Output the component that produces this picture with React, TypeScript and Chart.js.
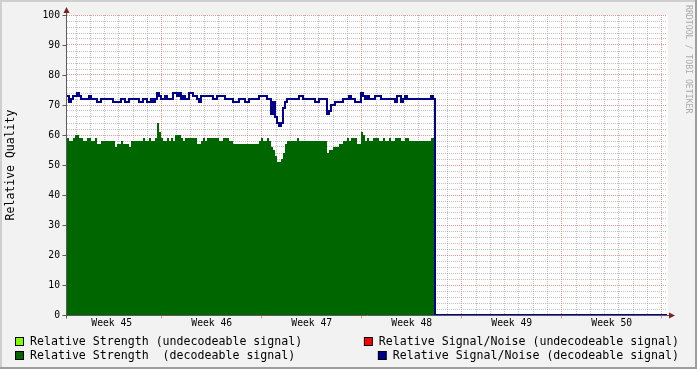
import React, { useEffect, useRef } from 'react';
import { Chart, registerables } from 'chart.js';

Chart.register(...registerables);

// ---- data ----
const WEEK_LABELS = ['Week 45', 'Week 46', 'Week 47', 'Week 48', 'Week 49', 'Week 50'];
const Y_MAJOR_TICKS = [0, 10, 20, 30, 40, 50, 60, 70, 80, 90, 100];
const X_START_DAY = 0.37; // days after the Monday that starts week 45
const X_SPAN_DAYS = 42;
const SAMPLE_DAYS = 0.14; // spacing of the samples below

// Relative Strength (decodeable signal)
const STRENGTH = [
  59, 58, 58, 59, 60, 60, 59, 59, 58, 58, 59, 59, 58, 58, 59, 57, 57, 58, 58, 58,
  58, 58, 58, 58, 56, 57, 57, 58, 57, 57, 57, 56, 58, 58, 58, 58, 58, 58, 59, 58,
  58, 59, 58, 58, 59, 64, 61, 59, 58, 58, 59, 58, 59, 58, 60, 60, 60, 59, 58, 59,
  59, 59, 59, 59, 59, 57, 57, 58, 59, 58, 59, 59, 59, 59, 59, 59, 58, 58, 59, 59,
  59, 58, 58, 57, 57, 57, 57, 57, 57, 57, 57, 57, 57, 57, 57, 57, 58, 59, 58, 58,
  59, 58, 56, 55, 53, 51, 51, 52, 54, 57, 58, 58, 58, 58, 58, 59, 58, 58, 58, 58,
  58, 58, 58, 58, 58, 58, 58, 58, 58, 58, 54, 55, 55, 56, 56, 56, 57, 57, 58, 58,
  59, 58, 59, 59, 59, 57, 57, 61, 60, 58, 59, 58, 58, 59, 59, 59, 58, 58, 59, 58,
  58, 59, 58, 58, 59, 59, 59, 58, 58, 59, 59, 58, 58, 58, 58, 58, 58, 58, 58, 58,
  58, 58, 59, 59,
];

// Relative Signal/Noise (decodeable signal)
const SIGNAL_NOISE = [
  73, 71, 72, 73, 73, 74, 73, 72, 72, 72, 72, 73, 72, 72, 72, 71, 71, 72, 72, 72,
  72, 72, 72, 71, 71, 71, 71, 72, 72, 71, 71, 72, 72, 72, 72, 72, 71, 71, 72, 72,
  71, 71, 72, 71, 72, 74, 73, 72, 72, 73, 72, 72, 72, 74, 74, 73, 74, 72, 73, 72,
  72, 74, 74, 73, 73, 72, 71, 73, 73, 73, 73, 73, 73, 72, 72, 73, 73, 73, 73, 72,
  72, 72, 72, 71, 71, 71, 72, 72, 72, 71, 71, 72, 72, 72, 72, 72, 73, 73, 73, 73,
  72, 72, 67, 71, 66, 64, 63, 64, 69, 71, 72, 72, 72, 72, 72, 72, 73, 73, 72, 72,
  72, 72, 72, 72, 71, 71, 72, 72, 72, 72, 67, 68, 70, 70, 71, 71, 71, 71, 72, 72,
  72, 73, 72, 72, 71, 71, 71, 74, 73, 72, 73, 72, 72, 72, 73, 73, 73, 72, 72, 72,
  72, 72, 72, 72, 71, 73, 73, 71, 72, 73, 72, 72, 72, 72, 72, 72, 72, 72, 72, 72,
  72, 72, 73, 72,
];

const LEGEND_LEFT = ['Relative Strength (undecodeable signal)', 'Relative Strength  (decodeable signal)'];
const LEGEND_RIGHT = ['Relative Signal/Noise (undecodeable signal)', 'Relative Signal/Noise (decodeable signal)'];
const Y_TITLE = 'Relative Quality';
const WATERMARK = 'RRDTOOL / TOBI OETIKER';

// ---- styles ----
const FONT = '"DejaVu Sans Mono", monospace';
const LIGHT_GREEN = '#80FF00';
const RED = '#FF0000';
const GREEN = '#006600';
const NAVY = '#000088';
const GRID = 'rgba(143,143,143,0.55)';
const MGRID = 'rgba(222,79,79,0.6)';
const AXIS = '#5A5A5A';
const ARROW = '#801F1F';

const rrdPlugin = {
  id: 'rrdFrame',
  beforeDraw(chart: any) {
    const { ctx, width, height, chartArea: a } = chart;
    ctx.save();
    ctx.fillStyle = '#F2F2F2';
    ctx.fillRect(0, 0, width, height);
    ctx.fillStyle = '#CFCFCF';
    ctx.fillRect(0, 0, width, 2);
    ctx.fillRect(0, 0, 2, height);
    ctx.fillStyle = '#9E9E9E';
    ctx.fillRect(0, height - 2, width, 2);
    ctx.fillRect(width - 2, 0, 2, height);
    ctx.fillStyle = '#FFFFFF';
    ctx.fillRect(a.left, a.top, a.right - a.left + 1, a.bottom - a.top);
    ctx.restore();
  },
  beforeDatasetsDraw(chart: any) {
    const { ctx, chartArea: a, scales } = chart;
    const ax = Math.round(a.left) - 0.5;
    const ay = Math.round(a.bottom) + 0.5;
    ctx.save();
    ctx.lineWidth = 1;
    ctx.strokeStyle = AXIS;
    ctx.beginPath();
    ctx.moveTo(ax, ay + 3);
    ctx.lineTo(ax, a.top - 6);
    ctx.moveTo(ax - 3, ay);
    ctx.lineTo(a.right + 5, ay);
    // y major ticks
    Y_MAJOR_TICKS.forEach((v) => {
      const y = Math.round(scales.y.getPixelForValue(v)) + 0.5;
      ctx.moveTo(ax - 4, y);
      ctx.lineTo(ax, y);
    });
    ctx.stroke();
    // x week ticks
    ctx.strokeStyle = MGRID;
    ctx.beginPath();
    for (let d = 7; d <= X_SPAN_DAYS; d += 7) {
      const x = Math.round(scales.x.getPixelForValue(d)) - 0.5;
      ctx.moveTo(x, ay);
      ctx.lineTo(x, ay + 3);
    }
    ctx.stroke();
    // arrows
    ctx.fillStyle = ARROW;
    ctx.beginPath();
    ctx.moveTo(ax - 3, a.top - 2);
    ctx.lineTo(ax + 3, a.top - 2);
    ctx.lineTo(ax, a.top - 8);
    ctx.closePath();
    ctx.fill();
    ctx.beginPath();
    ctx.moveTo(a.right + 2, ay - 3);
    ctx.lineTo(a.right + 2, ay + 3);
    ctx.lineTo(a.right + 8, ay);
    ctx.closePath();
    ctx.fill();
    ctx.restore();
  },
  afterDraw(chart: any) {
    const { ctx, width } = chart;
    ctx.save();
    ctx.font = `11.6px ${FONT}`;
    ctx.textBaseline = 'alphabetic';
    ctx.textAlign = 'left';
    const colorsLeft = [LIGHT_GREEN, GREEN];
    const colorsRight = [RED, NAVY];
    const rows = [345, 359];
    const box = (x: number, baseline: number, color: string) => {
      ctx.fillStyle = '#000';
      ctx.fillRect(x, baseline - 8, 9, 9);
      ctx.fillStyle = color;
      ctx.fillRect(x + 1, baseline - 7, 7, 7);
    };
    LEGEND_LEFT.forEach((label, i) => {
      box(15, rows[i], colorsLeft[i]);
      ctx.fillStyle = '#000';
      ctx.fillText(label, 30, rows[i]);
    });
    LEGEND_RIGHT.forEach((label, i) => {
      const w = ctx.measureText(label).width;
      const tx = width - 18 - w;
      box(tx - 15, rows[i], colorsRight[i]);
      ctx.fillStyle = '#000';
      ctx.fillText(label, tx, rows[i]);
    });
    // watermark
    ctx.translate(width - 9, 5);
    ctx.rotate(Math.PI / 2);
    ctx.font = `8.2px ${FONT}`;
    ctx.fillStyle = '#ABABAB';
    ctx.textBaseline = 'middle';
    ctx.fillText(WATERMARK, 0, 0);
    ctx.restore();
  },
};

export default function App() {
  const ref = useRef<HTMLCanvasElement | null>(null);

  useEffect(() => {
    if (!ref.current) return;
    const dataEnd = X_START_DAY + STRENGTH.length * SAMPLE_DAYS;
    const xMax = X_START_DAY + X_SPAN_DAYS;
    const strengthPoints = STRENGTH.map((v, i) => ({ x: X_START_DAY + i * SAMPLE_DAYS, y: v }));
    strengthPoints.push({ x: dataEnd, y: 0 });
    const snrPoints = SIGNAL_NOISE.map((v, i) => ({ x: X_START_DAY + i * SAMPLE_DAYS, y: v }));
    snrPoints.push({ x: dataEnd, y: 0 });
    snrPoints.push({ x: xMax, y: 0 });

    const minorY: number[] = [];
    for (let v = 0; v <= 100; v += 2) minorY.push(v);

    const chart = new Chart(ref.current, {
      type: 'line',
      data: {
        datasets: [
          {
            label: LEGEND_RIGHT[1],
            data: snrPoints,
            borderColor: NAVY,
            borderWidth: 2,
            stepped: 'before',
            pointRadius: 0,
            fill: false,
            order: 0,
          },
          {
            label: LEGEND_LEFT[1],
            data: strengthPoints,
            borderColor: 'rgba(0,0,0,0)',
            borderWidth: 0,
            backgroundColor: GREEN,
            fill: 'origin',
            stepped: 'before',
            pointRadius: 0,
            order: 1,
          },
        ],
      },
      options: {
        animation: false,
        responsive: false,
        devicePixelRatio: 1,
        events: [],
        layout: { padding: { top: 15, right: 30, left: 0, bottom: 0 } },
        plugins: { legend: { display: false }, tooltip: { enabled: false }, title: { display: false } },
        scales: {
          x: {
            type: 'linear',
            min: X_START_DAY,
            max: xMax,
            z: 1,
            afterFit: (s: any) => { s.height = 54; },
            afterBuildTicks: (s: any) => {
              const t: { value: number }[] = [];
              for (let d = 1; d <= X_SPAN_DAYS; d++) t.push({ value: d });
              WEEK_LABELS.forEach((_, k) => t.push({ value: 3.5 + 7 * k }));
              t.sort((p, q) => p.value - q.value);
              s.ticks = t;
            },
            grid: {
              drawTicks: false,
              lineWidth: 1,
              color: (c: any) => {
                const v = c.tick ? c.tick.value : null;
                if (v == null || !Number.isInteger(v)) return 'rgba(0,0,0,0)';
                return v % 7 === 0 ? MGRID : GRID;
              },
            },
            border: { display: false, dash: [1, 1] },
            ticks: {
              autoSkip: false,
              maxRotation: 0,
              minRotation: 0,
              padding: 3,
              color: '#000',
              font: { family: FONT, size: 9.7 },
              callback: (value: any) => {
                const k = (Number(value) - 3.5) / 7;
                return Number.isInteger(k) && WEEK_LABELS[k] ? WEEK_LABELS[k] : '';
              },
            },
          },
          y: {
            min: 0,
            max: 100,
            z: 1,
            afterFit: (s: any) => { s.width = 67; },
            afterBuildTicks: (s: any) => { s.ticks = minorY.map((v) => ({ value: v })); },
            grid: {
              drawTicks: false,
              lineWidth: 1,
              color: (c: any) => {
                const v = c.tick ? c.tick.value : null;
                if (v == null || v === 0) return 'rgba(0,0,0,0)';
                return Y_MAJOR_TICKS.includes(v) ? MGRID : GRID;
              },
            },
            border: { display: false, dash: [1, 1] },
            ticks: {
              autoSkip: false,
              padding: 7,
              color: '#000',
              font: { family: FONT, size: 9.7 },
              callback: (value: any) => (Y_MAJOR_TICKS.includes(Number(value)) ? String(value) : ''),
            },
            title: {
              display: true,
              text: Y_TITLE,
              color: '#000',
              font: { family: FONT, size: 11.5 },
              padding: { top: 4, bottom: 0 },
            },
          },
        },
      },
      plugins: [rrdPlugin],
    } as any);
    return () => chart.destroy();
  }, []);

  return (
    <div style={{ position: 'absolute', left: 0, top: 0, width: 697, height: 369 }}>
      <canvas ref={ref} width={697} height={369} style={{ display: 'block', width: 697, height: 369 }} />
    </div>
  );
}
